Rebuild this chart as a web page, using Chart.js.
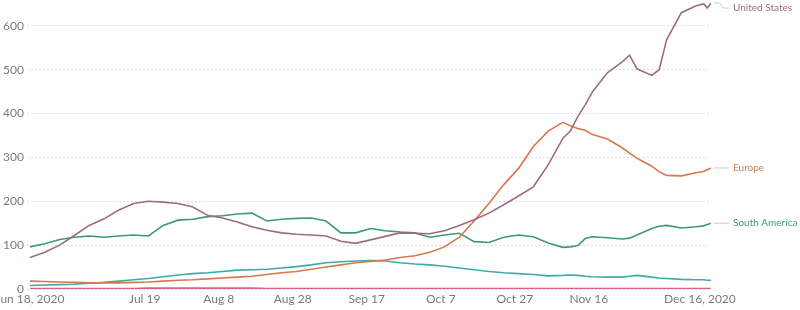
<!DOCTYPE html>
<html>
<head>
<meta charset="utf-8">
<script src="https://cdn.jsdelivr.net/npm/chart.js@4/dist/chart.umd.min.js"></script>
<style>
  body { margin: 0; background: #fff; }
  canvas { display: block; }
</style>
</head>
<body>
<canvas id="myChart" width="800" height="310"></canvas>
<script>
// days since Jun 18, 2020
const days = [0, 4, 8, 12, 16, 20, 24, 28, 32, 36, 40, 44, 48, 52, 56, 60, 64, 68, 72, 76,
  80, 84, 88, 92, 96, 100, 104, 108, 112, 116, 120, 124, 128, 132, 136, 140,
  144, 146, 148, 150, 152, 156, 160, 162, 164, 168, 170, 172, 176, 180, 182, 183, 184];

const unitedStates = [72, 84, 100, 122, 145, 160, 180, 195, 200, 198, 195, 187, 168, 162, 153, 142, 134, 128, 125, 123,
  121, 109, 104, 112, 120, 128, 127, 126, 133, 145, 158, 173, 192, 212, 233, 283,
  344, 360, 393, 420, 450, 493, 518, 533, 502, 487, 500, 568, 630, 646, 650, 641, 652];

const europe = [18, 17, 16, 15, 14, 14, 14, 15, 16, 18, 20, 21, 23, 25, 27, 29, 33, 37, 40, 45,
  50, 55, 60, 63, 66, 72, 76, 84, 96, 118, 155, 195, 238, 275, 325, 360,
  380, 372, 366, 362, 352, 342, 322, 310, 298, 280, 267, 259, 258, 265, 268, 272, 276];

const southAmerica = [96, 103, 113, 118, 121, 118, 121, 123, 121, 145, 157, 159, 165, 167, 171, 173, 155, 159, 161, 162,
  155, 128, 128, 138, 133, 130, 128, 118, 123, 127, 108, 106, 118, 123, 119, 105,
  95, 96, 99, 115, 119, 117, 114, 116, 123, 138, 143, 145, 139, 142, 144, 147, 150];

const asia = [8, 9, 10, 11, 13, 15, 18, 21, 24, 28, 32, 35, 37, 40, 43, 44, 45, 48, 51, 55,
  60, 62, 64, 65, 64, 60, 57, 55, 52, 48, 44, 40, 37, 35, 33, 30,
  31, 32, 31, 29, 28, 27, 27, 29, 31, 27, 25, 24, 22, 21, 21, 20, 20];

const oceania = [1, 1, 1, 1, 1, 1, 1, 1, 2, 2, 2, 2, 2, 2, 2, 2, 1, 1, 1, 1,
  1, 1, 1, 1, 1, 1, 1, 1, 1, 1, 1, 1, 1, 1, 1, 1,
  1, 1, 1, 1, 1, 1, 1, 1, 1, 1, 1, 1, 1, 1, 1, 1, 1];

const xTickDays = [0, 31, 51, 71, 91, 111, 131, 151, 181];
const xTickLabels = ["Jun 18, 2020", "Jul 19", "Aug 8", "Aug 28", "Sep 17", "Oct 7", "Oct 27", "Nov 16", "Dec 16, 2020"];
const yTicks = [0, 100, 200, 300, 400, 500, 600];

const seriesNames = ["United States", "Europe", "South America", "Asia", "Oceania"];
const seriesValues = [unitedStates, europe, southAmerica, asia, oceania];
const lineColors = ["#9c6d7d", "#d6784c", "#3d9a74", "#3eaaa5", "#d4628e"];
const textColors = ["#9c6d7d", "#c98251", "#3d9a7c", null, null];

function points(values) {
  return values.map(function (v, i) { return { x: days[i], y: v }; });
}

const endLabels = {
  id: "endLabels",
  afterDatasetsDraw: function (chart) {
    const ctx = chart.ctx;
    ctx.save();
    ctx.font = "10px Lato";
    ctx.textBaseline = "middle";
    chart.data.datasets.forEach(function (ds, i) {
      if (!textColors[i]) return;
      const meta = chart.getDatasetMeta(i);
      const last = meta.data[meta.data.length - 1];
      const labelX = 733;
      const labelY = Math.max(last.y, 8);
      ctx.strokeStyle = "#cccccc";
      ctx.lineWidth = 1;
      ctx.beginPath();
      ctx.moveTo(last.x + 3, last.y);
      ctx.lineTo(last.x + 9, last.y);
      ctx.lineTo(last.x + 12, labelY);
      ctx.lineTo(labelX - 4, labelY);
      ctx.stroke();
      ctx.fillStyle = textColors[i];
      ctx.fillText(ds.label, labelX, labelY);
    });
    ctx.restore();
  }
};

new Chart("myChart", {
  type: "line",
  data: {
    datasets: seriesNames.map(function (name, i) {
      return {
        label: name,
        data: points(seriesValues[i]),
        borderColor: lineColors[i],
        borderWidth: 1.6,
        pointRadius: 0,
        tension: 0
      };
    })
  },
  options: {
    responsive: false,
    animation: false,
    layout: { padding: { top: 0, right: 89, left: 0, bottom: 0 } },
    plugins: {
      legend: { display: false },
      tooltip: { enabled: false }
    },
    scales: {
      x: {
        type: "linear",
        min: -0.8,
        max: 184,
        grid: { display: false, drawTicks: false },
        border: { display: false },
        afterBuildTicks: function (scale) {
          scale.ticks = xTickDays.map(function (d) { return { value: d }; });
        },
        afterFit: function (scale) {
          scale.height = 21;
          scale.paddingLeft = 0;
          scale.paddingRight = 0;
        },
        ticks: {
          autoSkip: false,
          maxRotation: 0,
          padding: 3,
          color: "#7a7a7a",
          font: { family: "Lato", size: 12 },
          callback: function (value) {
            return xTickLabels[xTickDays.indexOf(value)];
          }
        }
      },
      y: {
        min: 0,
        max: 659,
        grid: { color: "#dddddd", drawTicks: false },
        border: { display: false, dash: [2, 2] },
        afterBuildTicks: function (scale) {
          scale.ticks = yTicks.map(function (v) { return { value: v }; });
        },
        afterFit: function (scale) {
          scale.width = 27;
          scale.paddingTop = 0;
          scale.paddingBottom = 0;
        },
        ticks: {
          padding: 3,
          color: "#7a7a7a",
          font: { family: "Lato", size: 12 }
        }
      }
    }
  },
  plugins: [endLabels]
});
</script>
</body>
</html>
